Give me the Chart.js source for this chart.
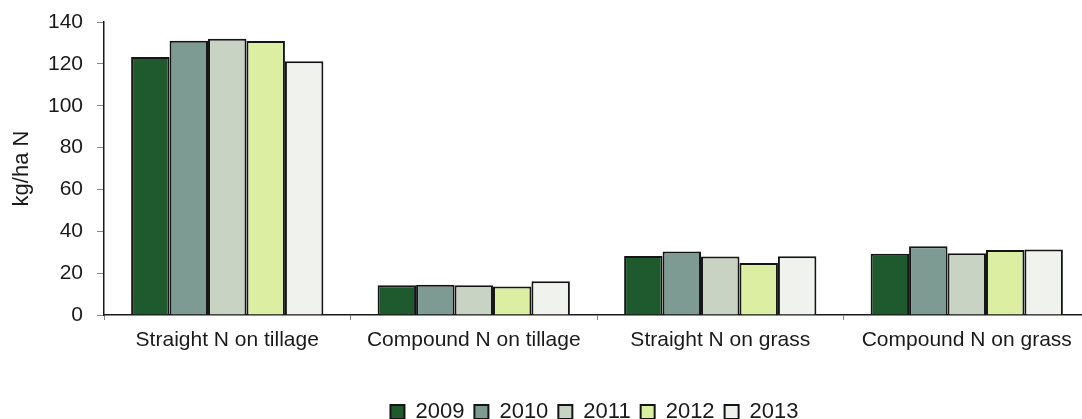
<!DOCTYPE html>
<html>
<head>
<meta charset="utf-8">
<script src="https://cdn.jsdelivr.net/npm/chart.js@4.4.1/dist/chart.umd.min.js"></script>
<style>
html,body{margin:0;padding:0;overflow:hidden;background:#fff;}
#wrap{width:1094px;height:419px;position:relative;}
</style>
</head>
<body>
<div id="wrap"><canvas id="c"></canvas></div>
<script>
const categories = ['Straight N on tillage', 'Compound N on tillage', 'Straight N on grass', 'Compound N on grass'];
const years = ['2009', '2010', '2011', '2012', '2013'];
const values2009 = [123.3, 14.2, 28.2, 29.3];
const values2010 = [131.0, 14.5, 30.3, 32.8];
const values2011 = [132.0, 14.2, 28.0, 29.5];
const values2012 = [130.9, 13.6, 24.8, 31.1];
const values2013 = [121.2, 16.1, 28.1, 31.3];
const yTicks = [0, 20, 40, 60, 80, 100, 120, 140];
const yTitle = 'kg/ha N';

const seriesValues = [values2009, values2010, values2011, values2012, values2013];
const colors = ['#1e5a2d', '#7e9b93', '#c9d3c3', '#dceea2', '#f0f2ee'];

const datasets = years.map((y, i) => ({
  label: y,
  data: seriesValues[i],
  backgroundColor: colors[i],
  borderColor: '#151515',
  borderWidth: 2,
  borderSkipped: 'start',
  barPercentage: 1.0,
  categoryPercentage: 0.78
}));

const legendShift = {
  id: 'legendShift',
  afterLayout(chart) {
    const l = chart.legend;
    if (!l) return;
    const dx = 45, dy = 14;
    l.left += dx;
    l.right += dx;
    l.top += dy;
    l.bottom += dy;
  }
};

Chart.defaults.font.family = '"Liberation Sans", Arial, sans-serif';
Chart.defaults.color = '#1a1a1a';

new Chart(document.getElementById('c'), {
  type: 'bar',
  data: { labels: categories, datasets },
  plugins: [legendShift],
  options: {
    responsive: true,
    maintainAspectRatio: false,
    animation: false,
    layout: { autoPadding: false, padding: { top: 22, right: 4, left: 9, bottom: 0 } },
    plugins: {
      tooltip: { enabled: false },
      legend: {
        position: 'bottom',
        labels: {
          boxWidth: 14,
          boxHeight: 14,
          padding: 10,
          font: { size: 22 },
          color: '#1a1a1a'
        }
      }
    },
    scales: {
      x: {
        offset: true,
        grid: {
          display: true,
          drawOnChartArea: false,
          drawTicks: true,
          tickLength: 5,
          color: '#888888',
          offset: true
        },
        border: { display: true, color: '#1a1a1a', width: 1.5 },
        ticks: { font: { size: 21 }, color: '#1a1a1a', padding: 8, maxRotation: 0, autoSkip: false },
        afterFit(scale) { scale.height = 62; }
      },
      y: {
        min: 0,
        max: 140,
        afterBuildTicks(scale) { scale.ticks = yTicks.map(v => ({ value: v })); },
        grid: {
          display: true,
          drawOnChartArea: false,
          drawTicks: true,
          tickLength: 7,
          color: '#888888'
        },
        border: { display: true, color: '#1a1a1a', width: 1.5 },
        ticks: { font: { size: 21 }, color: '#1a1a1a', padding: 14 },
        title: { display: true, text: yTitle, font: { size: 22 }, color: '#1a1a1a', padding: { top: 0, bottom: 0 } },
        afterFit(scale) {
          scale.width = 95;
          scale.paddingTop = 0;
          scale.paddingBottom = 0;
        }
      }
    }
  }
});
</script>
</body>
</html>
